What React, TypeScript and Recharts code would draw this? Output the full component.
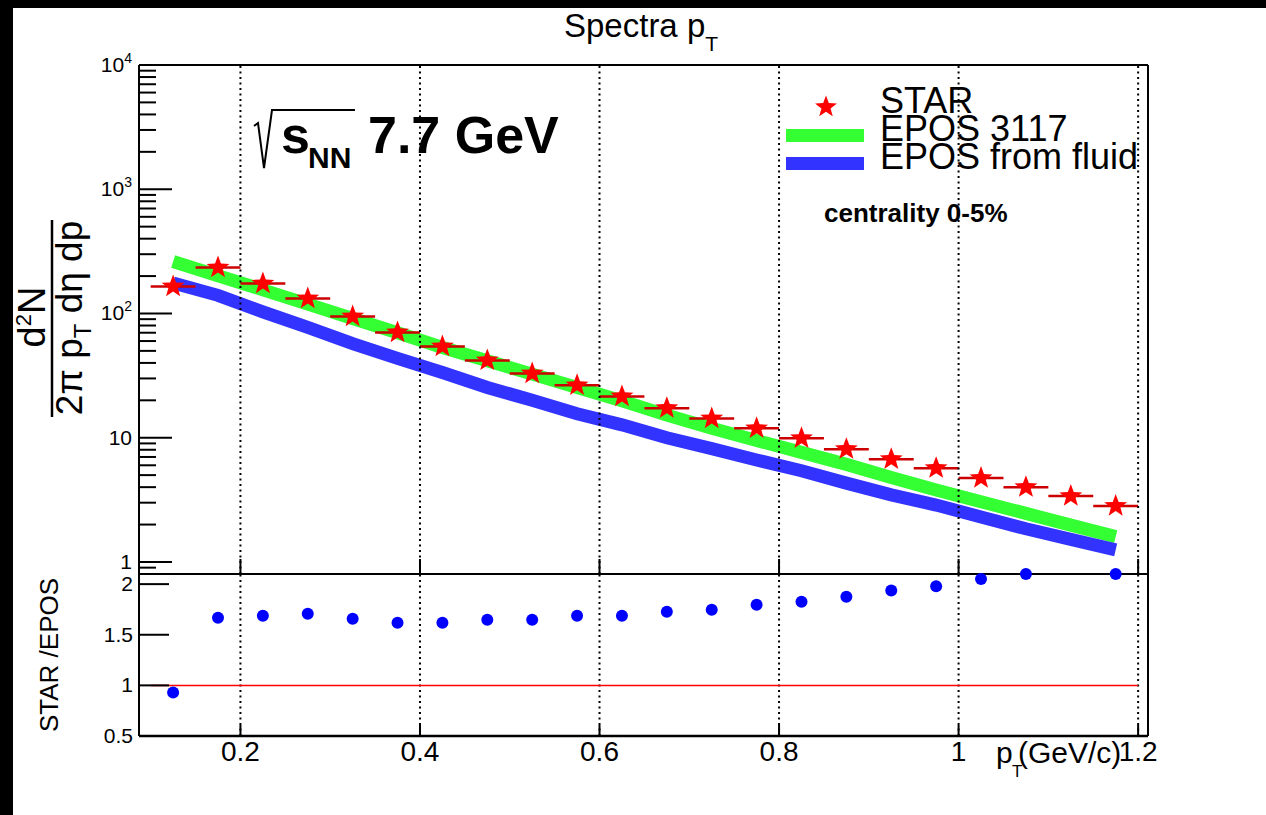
import React from 'react';
import { ComposedChart, XAxis, YAxis, Line, Scatter, ErrorBar, ReferenceLine } from 'recharts';

const FONT = '"Liberation Sans", Arial, Helvetica, sans-serif';

// ---------- data ----------
const ptBins = [0.125, 0.175, 0.225, 0.275, 0.325, 0.375, 0.425, 0.475, 0.525, 0.575, 0.625,
  0.675, 0.725, 0.775, 0.825, 0.875, 0.925, 0.975, 1.025, 1.075, 1.125, 1.175];
const starYield = [165, 234, 174, 132, 94.6, 70.4, 54.3, 41.9, 32.9, 26.4, 21.5,
  17.3, 14.3, 11.9, 9.9, 8.09, 6.72, 5.69, 4.73, 4.0, 3.39, 2.82];
const epos3117Yield = [262, 201, 155, 119, 91.2, 70.0, 53.3, 41.6, 32.5, 25.4, 19.8,
  15.2, 11.9, 9.51, 7.62, 6.10, 4.79, 3.79, 3.05, 2.46, 1.98, 1.60];
const eposFluidYield = [176, 140, 103, 77.3, 57.1, 43.5, 33.5, 25.4, 20.0, 15.6, 12.7,
  10.0, 8.18, 6.62, 5.42, 4.31, 3.47, 2.87, 2.30, 1.85, 1.52, 1.25];
const binHalfWidth = 0.025;

const ratioPt = [0.125, 0.175, 0.225, 0.275, 0.325, 0.375, 0.425, 0.475, 0.525, 0.575, 0.625,
  0.675, 0.725, 0.775, 0.825, 0.875, 0.925, 0.975, 1.025, 1.075, 1.175];
const ratioValue = [0.93, 1.668, 1.688, 1.708, 1.658, 1.619, 1.619, 1.649, 1.649, 1.688, 1.688,
  1.728, 1.748, 1.797, 1.827, 1.876, 1.936, 1.978, 2.051, 2.1, 2.1];

const xTickValues = [0.2, 0.4, 0.6, 0.8, 1.0, 1.2];
const xTickLabels = ['0.2', '0.4', '0.6', '0.8', '1', '1.2'];
const yDecades = [1, 10, 100, 1000, 10000];
const yDecadeLabels = ['1', '10', '10|2', '10|3', '10|4'];
const yMinorTicks = [0.9, 2, 3, 4, 5, 6, 7, 8, 9, 20, 30, 40, 50, 60, 70, 80, 90,
  200, 300, 400, 500, 600, 700, 800, 900, 2000, 3000, 4000, 5000, 6000, 7000, 8000, 9000];
const ratioTicks = [0.5, 1, 1.5, 2];
const ratioTickLabels = ['0.5', '1', '1.5', '2'];

const X_DOMAIN: [number, number] = [0.087, 1.211];
const Y_DOMAIN: [number, number] = [0.8, 10000];
const R_DOMAIN: [number, number] = [0.5, 2.1];

const starData = ptBins.map((x, i) => ({ x, y: starYield[i], ex: binHalfWidth }));
const greenData = ptBins.map((x, i) => ({ x, y: epos3117Yield[i] }));
const blueData = ptBins.map((x, i) => ({ x, y: eposFluidYield[i] }));
const ratioData = ratioPt.map((x, i) => ({ x, y: ratioValue[i] }));
const yAllTicks = [...yDecades, ...yMinorTicks].sort((a, b) => a - b);

const GREEN = '#33ff33';
const BLUE = '#3333ff';
const RED = '#ff0000';
const ERR_RED = '#cc0000';

function starPoints(cx: number, cy: number, R: number, r: number) {
  const pts: string[] = [];
  for (let i = 0; i < 10; i++) {
    const ang = -Math.PI / 2 + (i * Math.PI) / 5;
    const rad = i % 2 === 0 ? R : r;
    pts.push(`${cx + rad * Math.cos(ang)},${cy + rad * Math.sin(ang)}`);
  }
  return pts.join(' ');
}

const StarShape = (props: any) => {
  const { cx, cy } = props;
  if (cx == null || cy == null) return <g />;
  return <polygon points={starPoints(cx, cy, 12, 5)} fill={RED} />;
};

const DotShape = (props: any) => {
  const { cx, cy } = props;
  if (cx == null || cy == null) return <g />;
  return <circle cx={cx} cy={cy} r={6} fill="#0000ff" />;
};

// ---------- ticks ----------
const TopXTick = (props: any) => {
  const { x, y } = props;
  return <line x1={x} x2={x} y1={y} y2={y - 15} stroke="#000" strokeWidth={2} />;
};

const TopYTick = (props: any) => {
  const { x, y, payload } = props;
  const v = payload.value;
  const idx = yDecades.indexOf(v);
  const major = idx >= 0;
  let label: any = null;
  if (major) {
    const parts = yDecadeLabels[idx].split('|');
    label = (
      <text x={x - 7} y={y + 7} textAnchor="end" fontSize={21} fontFamily={FONT} fill="#000">
        {parts[0]}
        {parts[1] ? <tspan dy={-9} fontSize={14}>{parts[1]}</tspan> : null}
      </text>
    );
  }
  return (
    <g>
      <line x1={x} x2={x + (major ? 33 : 17)} y1={y} y2={y} stroke="#000" strokeWidth={2} />
      {label}
    </g>
  );
};

const BottomXTick = (props: any) => {
  const { x, y, payload } = props;
  const idx = xTickValues.indexOf(payload.value);
  return (
    <g>
      <line x1={x} x2={x} y1={y} y2={y - 11} stroke="#000" strokeWidth={2} />
      <text x={x} y={y + 25} textAnchor="middle" fontSize={28} fontFamily={FONT} fill="#000">
        {xTickLabels[idx]}
      </text>
    </g>
  );
};

const BottomYTick = (props: any) => {
  const { x, y, payload } = props;
  const idx = ratioTicks.indexOf(payload.value);
  return (
    <g>
      <line x1={x} x2={x + 30} y1={y} y2={y} stroke="#000" strokeWidth={2} />
      <text x={x - 6} y={y + 7} textAnchor="end" fontSize={21} fontFamily={FONT} fill="#000">
        {ratioTickLabels[idx]}
      </text>
    </g>
  );
};

const gridLines = (key: string) =>
  xTickValues.map((v) => (
    <ReferenceLine key={key + v} x={v} stroke="#000" strokeWidth={2} strokeDasharray="2 3.5" />
  ));

export default function App() {
  return (
    <div style={{ position: 'absolute', left: 0, top: 0, width: 1266, height: 815, background: '#000', overflow: 'hidden' }}>
      <div style={{ position: 'absolute', left: 13, top: 8, width: 1253, height: 807, background: '#fff' }} />

      {/* top panel */}
      <div style={{ position: 'absolute', left: 0, top: 0 }}>
        <ComposedChart width={1266} height={815} margin={{ top: 65, right: 118, bottom: 0, left: 0 }}>
          <XAxis type="number" dataKey="x" domain={X_DOMAIN} ticks={xTickValues} interval={0}
            height={241} axisLine={false} tickLine={false} tickSize={0} tickMargin={0} tick={TopXTick} />
          <YAxis type="number" scale="log" domain={Y_DOMAIN} ticks={yAllTicks} interval={0}
            width={139} axisLine={false} tickLine={false} tickSize={0} tickMargin={0} tick={TopYTick} />
          <Line data={greenData} dataKey="y" type="linear" stroke={GREEN} strokeWidth={13}
            strokeLinecap="butt" dot={false} activeDot={false} isAnimationActive={false} />
          <Line data={blueData} dataKey="y" type="linear" stroke={BLUE} strokeWidth={13}
            strokeLinecap="butt" dot={false} activeDot={false} isAnimationActive={false} />
          <Scatter data={starData} dataKey="y" shape={StarShape} isAnimationActive={false}>
            <ErrorBar dataKey="ex" direction="x" width={0} stroke={ERR_RED} strokeWidth={2.5} />
          </Scatter>
          {gridLines('t')}
          <ReferenceLine y={Y_DOMAIN[1]} stroke="#000" strokeWidth={2} />
          <ReferenceLine y={Y_DOMAIN[0]} stroke="#000" strokeWidth={2} />
          <ReferenceLine x={X_DOMAIN[0]} stroke="#000" strokeWidth={2} />
          <ReferenceLine x={X_DOMAIN[1]} stroke="#000" strokeWidth={2} />
        </ComposedChart>
      </div>

      {/* ratio panel */}
      <div style={{ position: 'absolute', left: 0, top: 0 }}>
        <ComposedChart width={1266} height={815} margin={{ top: 574, right: 118, bottom: 0, left: 0 }}>
          <XAxis type="number" dataKey="x" domain={X_DOMAIN} ticks={xTickValues} interval={0}
            height={79} axisLine={false} tickLine={false} tickSize={0} tickMargin={0} tick={BottomXTick} />
          <YAxis type="number" domain={R_DOMAIN} ticks={ratioTicks} interval={0}
            width={139} axisLine={false} tickLine={false} tickSize={0} tickMargin={0} tick={BottomYTick} />
          {gridLines('b')}
          <ReferenceLine segment={[{ x: 0.1, y: 1 }, { x: 1.2, y: 1 }]} stroke={RED} strokeWidth={1.5} />
          <ReferenceLine y={R_DOMAIN[0]} stroke="#000" strokeWidth={2.5} />
          <ReferenceLine x={X_DOMAIN[0]} stroke="#000" strokeWidth={2} />
          <ReferenceLine x={X_DOMAIN[1]} stroke="#000" strokeWidth={2} />
          <Scatter data={ratioData} dataKey="y" shape={DotShape} isAnimationActive={false} />
        </ComposedChart>
      </div>

      {/* annotations */}
      <svg width={1266} height={815} style={{ position: 'absolute', left: 0, top: 0, pointerEvents: 'none' }} fontFamily={FONT}>
        <text x={564} y={37} fontSize={33} fill="#000">
          Spectra p<tspan dy={14} fontSize={21}>T</tspan>
        </text>

        {/* sqrt(s_NN) 7.7 GeV */}
        <polyline points="254,126 258,123 264,168 272,110 355,110" fill="none" stroke="#000" strokeWidth={2} />
        <text x={281} y={153} fontSize={52} fontWeight="bold" fill="#000">s</text>
        <text x={308} y={168} fontSize={30} fontWeight="bold" fill="#000">NN</text>
        <text x={368} y={153} fontSize={52} fontWeight="bold" fill="#000">7.7 GeV</text>

        {/* legend */}
        <polygon points={starPoints(826, 107, 11.5, 4.8)} fill={RED} />
        <rect x={786} y={129} width={78} height={13} fill={GREEN} />
        <rect x={786} y={157} width={78} height={13} fill={BLUE} />
        <text x={880} y={113} fontSize={36} fill="#000">STAR</text>
        <text x={880} y={141} fontSize={36} fill="#000">EPOS 3117</text>
        <text x={880} y={169} fontSize={36} fill="#000">EPOS from fluid</text>

        <text x={824} y={222} fontSize={26} fontWeight="bold" fill="#000">centrality 0-5%</text>

        {/* y title */}
        <text x={45} y={317} fontSize={38} textAnchor="middle" transform="rotate(-90 45 317)" fill="#000">
          d<tspan dy={-14} fontSize={22}>2</tspan><tspan dy={14}>N</tspan>
        </text>
        <line x1={52} x2={52} y1={220} y2={417} stroke="#000" strokeWidth={2.5} />
        <text x={82} y={318} fontSize={37} textAnchor="middle" transform="rotate(-90 82 318)" fill="#000">
          2π p<tspan dy={9} fontSize={24}>T</tspan><tspan dy={-9}> dη dp</tspan>
        </text>

        <text x={58} y={655} fontSize={26} textAnchor="middle" transform="rotate(-90 58 655)" fill="#000">
          STAR /EPOS
        </text>

        {/* x title */}
        <text x={996} y={763} fontSize={30} fill="#000">p</text>
        <text x={1012} y={777} fontSize={17} fill="#000">T</text>
        <text x={1018} y={763} fontSize={30} fill="#000">(GeV/c)</text>
      </svg>
    </div>
  );
}
